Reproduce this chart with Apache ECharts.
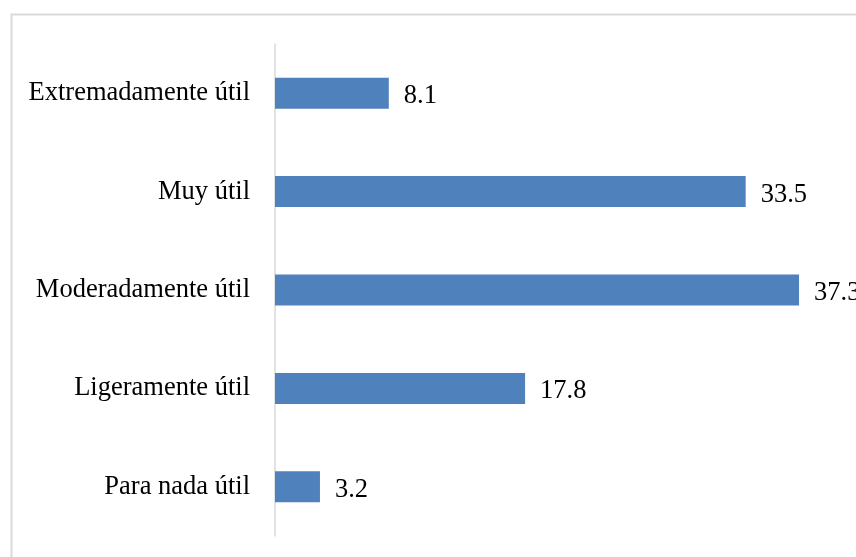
<!DOCTYPE html>
<html>
<head>
<meta charset="utf-8">
<script src="https://cdn.jsdelivr.net/npm/echarts@6/dist/echarts.min.js"></script>
<style>html,body{margin:0;padding:0;background:#fff}#c{width:856px;height:557px}</style>
</head>
<body>
<div id="c"></div>
<script>
var categories = ["Para nada útil", "Ligeramente útil", "Moderadamente útil", "Muy útil", "Extremadamente útil"];
var values = [3.2, 17.8, 37.3, 33.5, 8.1];

var chart = echarts.init(document.getElementById('c'));
chart.setOption({
  animation: false,
  backgroundColor: '#fff',
  graphic: [{
    type: 'rect',
    shape: { x: 11.5, y: 14.5, width: 900, height: 600 },
    style: { fill: 'none', stroke: '#d9d9d9', lineWidth: 2 },
    silent: true
  }],
  grid: { left: 275, right: 19, top: 44, bottom: 21, containLabel: false },
  xAxis: {
    type: 'value', min: 0, max: 40, show: false
  },
  yAxis: {
    type: 'category',
    data: categories,
    axisLine: { show: true, lineStyle: { color: '#d9d9d9', width: 1.5 } },
    axisTick: { show: false },
    axisLabel: { margin: 25, color: '#000', fontFamily: 'Liberation Serif', fontSize: 26.5, padding: [5, 0, 0, 0] }
  },
  series: [{
    type: 'bar',
    data: values,
    barWidth: 31,
    itemStyle: { color: '#4F81BD' },
    label: {
      show: true, position: 'right', distance: 15, offset: [0, 3],
      color: '#000', fontFamily: 'Liberation Serif', fontSize: 26.5,
      formatter: function (p) { return p.value.toFixed(1); }
    }
  }]
});
</script>
</body>
</html>
